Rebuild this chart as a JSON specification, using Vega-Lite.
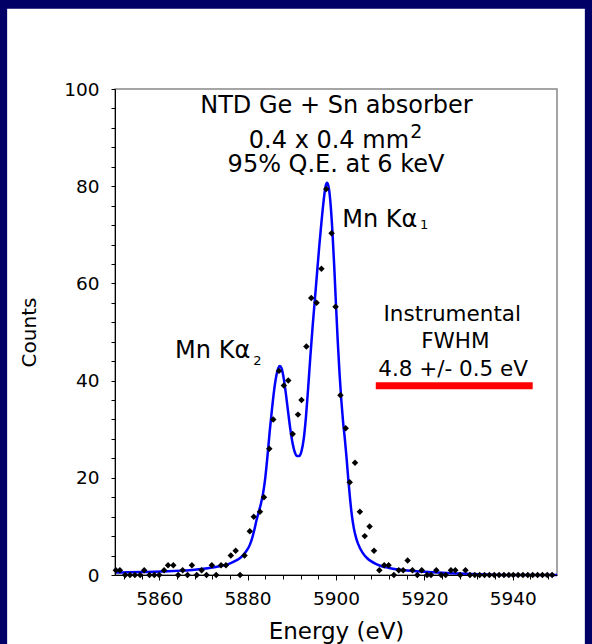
{
  "$schema": "https://vega.github.io/schema/vega-lite/v6.json",
  "width": 442,
  "height": 486,
  "autosize": "none",
  "padding": {"left": 115, "top": 89, "right": 35, "bottom": 69},
  "background": "#000066",
  "config": {
    "view": {"stroke": null},
    "font": "DejaVu Sans",
    "axis": {
      "grid": false,
      "domainColor": "#000000",
      "domainWidth": 1,
      "tickColor": "#000000",
      "tickWidth": 1,
      "labelColor": "#000000",
      "labelFont": "DejaVu Sans",
      "labelFontSize": 18.5,
      "labelOverlap": false,
      "titleFont": "DejaVu Sans",
      "titleColor": "#000000",
      "titleFontWeight": "normal"
    }
  },
  "resolve": {"scale": {"x": "shared", "y": "shared"}, "axis": {"x": "independent", "y": "independent"}},
  "datasets": {
    "points": [
      {"E": 5850.2, "C": 1}, {"E": 5851.1, "C": 1}, {"E": 5852.3, "C": 0}, {"E": 5853.4, "C": 0},
      {"E": 5854.5, "C": 0}, {"E": 5855.7, "C": 0}, {"E": 5856.6, "C": 1}, {"E": 5857.8, "C": 0},
      {"E": 5858.9, "C": 0}, {"E": 5860.0, "C": 0}, {"E": 5861.1, "C": 1}, {"E": 5862.0, "C": 2},
      {"E": 5863.2, "C": 2}, {"E": 5864.3, "C": 0}, {"E": 5865.3, "C": 1}, {"E": 5866.4, "C": 0},
      {"E": 5867.4, "C": 2}, {"E": 5868.5, "C": 0}, {"E": 5869.6, "C": 1}, {"E": 5870.7, "C": 0},
      {"E": 5871.9, "C": 2}, {"E": 5872.9, "C": 0}, {"E": 5874.0, "C": 2}, {"E": 5875.1, "C": 2},
      {"E": 5876.2, "C": 4}, {"E": 5877.3, "C": 5}, {"E": 5878.3, "C": 0}, {"E": 5879.3, "C": 4},
      {"E": 5880.5, "C": 9}, {"E": 5881.4, "C": 12}, {"E": 5882.8, "C": 13}, {"E": 5883.7, "C": 16},
      {"E": 5884.9, "C": 26}, {"E": 5885.8, "C": 32}, {"E": 5887.1, "C": 42}, {"E": 5888.2, "C": 39},
      {"E": 5889.2, "C": 40}, {"E": 5890.2, "C": 29}, {"E": 5891.4, "C": 33}, {"E": 5892.2, "C": 36},
      {"E": 5893.3, "C": 47}, {"E": 5894.4, "C": 57}, {"E": 5895.6, "C": 56}, {"E": 5896.7, "C": 63},
      {"E": 5897.8, "C": 79.4}, {"E": 5899.0, "C": 70.3}, {"E": 5899.9, "C": 55.2}, {"E": 5901.0, "C": 37},
      {"E": 5902.2, "C": 30.2}, {"E": 5903.1, "C": 19.1}, {"E": 5904.3, "C": 23.1}, {"E": 5905.4, "C": 13},
      {"E": 5906.5, "C": 8}, {"E": 5907.6, "C": 10}, {"E": 5908.6, "C": 5}, {"E": 5909.8, "C": 1},
      {"E": 5910.9, "C": 2}, {"E": 5911.9, "C": 2}, {"E": 5913.1, "C": 0}, {"E": 5914.2, "C": 1},
      {"E": 5915.2, "C": 1}, {"E": 5916.2, "C": 3}, {"E": 5917.3, "C": 1}, {"E": 5918.4, "C": 0},
      {"E": 5919.4, "C": 1}, {"E": 5920.6, "C": 0}, {"E": 5921.5, "C": 0}, {"E": 5922.7, "C": 1},
      {"E": 5923.8, "C": 0}, {"E": 5924.8, "C": 0}, {"E": 5926.0, "C": 1}, {"E": 5927.0, "C": 1},
      {"E": 5928.1, "C": 0}, {"E": 5929.3, "C": 1}, {"E": 5930.3, "C": 0}, {"E": 5931.4, "C": 0},
      {"E": 5932.5, "C": 0}, {"E": 5933.6, "C": 0}, {"E": 5934.7, "C": 0}, {"E": 5935.8, "C": 0},
      {"E": 5936.9, "C": 0}, {"E": 5938.0, "C": 0}, {"E": 5939.1, "C": 0}, {"E": 5940.1, "C": 0},
      {"E": 5941.2, "C": 0}, {"E": 5942.3, "C": 0}, {"E": 5943.4, "C": 0}, {"E": 5944.5, "C": 0},
      {"E": 5945.6, "C": 0}, {"E": 5946.7, "C": 0}, {"E": 5947.8, "C": 0}, {"E": 5948.9, "C": 0}
    ],
    "fit": [
      {"E": 5850, "C": 0.5}, {"E": 5853, "C": 0.55}, {"E": 5856, "C": 0.6}, {"E": 5859, "C": 0.65},
      {"E": 5862, "C": 0.75}, {"E": 5865, "C": 0.9}, {"E": 5868, "C": 1.1}, {"E": 5870, "C": 1.3},
      {"E": 5872, "C": 1.55}, {"E": 5874, "C": 1.85}, {"E": 5875.5, "C": 2.2}, {"E": 5877, "C": 2.8},
      {"E": 5878, "C": 3.3}, {"E": 5879, "C": 4.1}, {"E": 5880, "C": 5.3}, {"E": 5880.5, "C": 6.2},
      {"E": 5881, "C": 7.5}, {"E": 5881.5, "C": 9.2}, {"E": 5882, "C": 11.2}, {"E": 5882.5, "C": 12.9},
      {"E": 5883, "C": 14.6}, {"E": 5883.5, "C": 16.8}, {"E": 5884, "C": 20}, {"E": 5884.5, "C": 24.5},
      {"E": 5885, "C": 29.5}, {"E": 5885.5, "C": 34}, {"E": 5886, "C": 38}, {"E": 5886.5, "C": 41},
      {"E": 5887.0, "C": 42.7}, {"E": 5887.3, "C": 43}, {"E": 5887.7, "C": 42.5}, {"E": 5888.2, "C": 40.3},
      {"E": 5888.7, "C": 37}, {"E": 5889.2, "C": 33.3}, {"E": 5889.7, "C": 29.8}, {"E": 5890.2, "C": 27},
      {"E": 5890.7, "C": 25.2}, {"E": 5891.2, "C": 24.5}, {"E": 5891.7, "C": 24.5}, {"E": 5892.2, "C": 25.5},
      {"E": 5892.7, "C": 28}, {"E": 5893.2, "C": 32.5}, {"E": 5893.7, "C": 38.5}, {"E": 5894.2, "C": 45},
      {"E": 5894.7, "C": 51}, {"E": 5895.2, "C": 56.5}, {"E": 5895.7, "C": 62}, {"E": 5896.2, "C": 67.5},
      {"E": 5896.7, "C": 72.5}, {"E": 5897.2, "C": 77}, {"E": 5897.6, "C": 79.8}, {"E": 5898.0, "C": 80.7},
      {"E": 5898.4, "C": 79.5}, {"E": 5898.8, "C": 76}, {"E": 5899.2, "C": 70.5}, {"E": 5899.6, "C": 63.5},
      {"E": 5900.0, "C": 55.5}, {"E": 5900.4, "C": 48}, {"E": 5900.8, "C": 41.5}, {"E": 5901.2, "C": 36},
      {"E": 5901.6, "C": 31.5}, {"E": 5902.0, "C": 28}, {"E": 5902.4, "C": 24}, {"E": 5902.8, "C": 19.5},
      {"E": 5903.2, "C": 15.5}, {"E": 5903.6, "C": 12.2}, {"E": 5904.0, "C": 9.8}, {"E": 5904.5, "C": 7.8},
      {"E": 5905.0, "C": 6.4}, {"E": 5906, "C": 4.6}, {"E": 5907, "C": 3.5}, {"E": 5908, "C": 2.8},
      {"E": 5909, "C": 2.3}, {"E": 5910, "C": 1.9}, {"E": 5912, "C": 1.45}, {"E": 5914, "C": 1.15},
      {"E": 5917, "C": 0.85}, {"E": 5920, "C": 0.65}, {"E": 5924, "C": 0.45}, {"E": 5928, "C": 0.3},
      {"E": 5932, "C": 0.15}, {"E": 5936, "C": 0.05}, {"E": 5940, "C": 0.0}, {"E": 5950, "C": 0.0}
    ],
    "centerText": [
      {"t": "NTD Ge + Sn absorber", "E": 5900.1, "C": 95.12, "s": 24},
      {"t": "0.4 x 0.4 mm", "E": 5898.4, "C": 87.86, "s": 24},
      {"t": "95% Q.E. at 6 keV", "E": 5900.0, "C": 82.98, "s": 24},
      {"t": "Instrumental", "E": 5926.3, "C": 52.33, "s": 21.5},
      {"t": "FWHM", "E": 5927.0, "C": 46.65, "s": 21.5},
      {"t": "4.8 +/- 0.5 eV", "E": 5926.5, "C": 40.95, "s": 21.5}
    ],
    "leftText": [
      {"t": "2", "E": 5916.8, "C": 89.9, "s": 19},
      {"t": "Mn Kα", "E": 5901.4, "C": 71.67, "s": 24},
      {"t": "1", "E": 5919.0, "C": 71.13, "s": 13},
      {"t": "Mn Kα", "E": 5863.6, "C": 44.59, "s": 24},
      {"t": "2", "E": 5881.3, "C": 43.2, "s": 13}
    ]
  },
  "layer": [
    {
      "data": {"values": [{}]},
      "mark": {"type": "rect", "fill": "#ffffff", "clip": false},
      "encoding": {
        "x": {
          "datum": 5825.6, "type": "quantitative",
          "scale": {"domain": [5850, 5950], "nice": false, "zero": false},
          "axis": {
            "orient": "bottom", "title": "Energy (eV)",
            "values": [5860, 5880, 5900, 5920, 5940],
            "format": "d", "tickSize": 5, "labelPadding": 9, "labelFontSize": 18.5, "labelOverlap": false,
            "titleFontSize": 23, "titleX": 221, "titleY": 45, "titleAlign": "center", "titleBaseline": "top", "zindex": 2
          }
        },
        "x2": {"datum": 5956.3},
        "y": {
          "datum": -16, "type": "quantitative",
          "scale": {"domain": [0, 100], "nice": false, "zero": false},
          "axis": {
            "orient": "left", "title": "Counts",
            "values": [0, 20, 40, 60, 80, 100],
            "format": "d", "tickSize": 4, "labelPadding": 12, "labelFontSize": 18.5, "labelOverlap": false,
            "titleFontSize": 20, "titleX": -86, "titleY": 243, "titleAngle": -90, "titleAlign": "center", "titleBaseline": "middle", "zindex": 2
          }
        },
        "y2": {"datum": 116.5}
      }
    },
    {
      "data": {"values": [{}]},
      "mark": {"type": "rect", "fillOpacity": 0, "stroke": "#888888", "strokeWidth": 1.5},
      "encoding": {
        "x": {
          "datum": 5850, "type": "quantitative",
          "axis": {
            "orient": "bottom", "title": null, "labels": false, "domain": false,
            "values": [5852, 5856, 5864, 5868, 5872, 5876, 5884, 5888, 5892, 5896, 5904, 5908, 5912, 5916, 5924, 5928, 5932, 5936, 5944, 5948],
            "tickSize": 4, "zindex": 2
          }
        },
        "x2": {"datum": 5950},
        "y": {
          "datum": 0, "type": "quantitative",
          "axis": {
            "orient": "left", "title": null, "labels": false, "domain": false,
            "values": [4, 8, 12, 16, 24, 28, 32, 36, 44, 48, 52, 56, 64, 68, 72, 76, 84, 88, 92, 96],
            "tickSize": 4, "zindex": 2
          }
        },
        "y2": {"datum": 100}
      }
    },
    {
      "data": {"name": "fit"},
      "mark": {"type": "line", "color": "#0000ff", "strokeWidth": 2.5, "interpolate": "monotone"},
      "encoding": {
        "x": {"field": "E", "type": "quantitative", "axis": null},
        "y": {"field": "C", "type": "quantitative", "axis": null}
      }
    },
    {
      "data": {"name": "points"},
      "mark": {"type": "point", "shape": "diamond", "filled": true, "color": "#000000", "size": 42, "opacity": 1},
      "encoding": {
        "x": {"field": "E", "type": "quantitative", "axis": null},
        "y": {"field": "C", "type": "quantitative", "axis": null}
      }
    },
    {
      "data": {"values": [{}]},
      "mark": {"type": "rule", "color": "#ff0000", "strokeWidth": 7, "strokeCap": "butt"},
      "encoding": {
        "x": {"datum": 5909.0, "type": "quantitative", "axis": null},
        "x2": {"datum": 5944.5},
        "y": {"datum": 38.93, "type": "quantitative", "axis": null}
      }
    },
    {
      "data": {"name": "centerText"},
      "mark": {"type": "text", "baseline": "alphabetic", "align": "center", "color": "#000000", "font": "DejaVu Sans"},
      "encoding": {
        "x": {"field": "E", "type": "quantitative", "axis": null},
        "y": {"field": "C", "type": "quantitative", "axis": null},
        "text": {"field": "t"},
        "size": {"field": "s", "type": "quantitative", "scale": null}
      }
    },
    {
      "data": {"name": "leftText"},
      "mark": {"type": "text", "baseline": "alphabetic", "align": "left", "color": "#000000", "font": "DejaVu Sans"},
      "encoding": {
        "x": {"field": "E", "type": "quantitative", "axis": null},
        "y": {"field": "C", "type": "quantitative", "axis": null},
        "text": {"field": "t"},
        "size": {"field": "s", "type": "quantitative", "scale": null}
      }
    }
  ]
}
